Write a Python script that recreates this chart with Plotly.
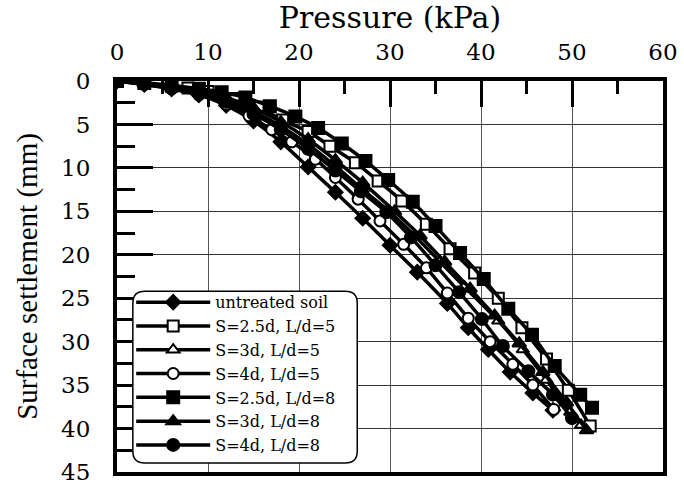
import plotly.graph_objects as go

# ---- data (pressure kPa, settlement mm) ----
untreated_p = [0, 3, 6, 9, 12, 15, 18, 21, 24, 27, 30, 33, 36.3, 38.6, 40.8, 43.2, 45.7, 47.9]
untreated_s = [0, 0.4, 0.9, 1.6, 2.8, 4.6, 7.0, 9.9, 12.8, 15.8, 18.9, 22.0, 25.6, 28.4, 30.9, 33.5, 35.9, 37.9]

s25_l5_p = [0, 3, 6, 7.8, 10, 13, 15.5, 18.2, 21, 23.4, 26.2, 28.7, 31.3, 34, 36.6, 39.3, 41.9, 44.5, 47.2, 49.6, 52]
s25_l5_s = [0, 0.3, 0.6, 0.8, 1.2, 2.0, 3.0, 4.5, 5.8, 7.5, 9.4, 11.5, 13.8, 16.5, 19.3, 22.1, 25.0, 28.4, 32.0, 35.6, 39.7]

s3_l5_p = [0, 3, 6, 9, 12, 15, 18, 21, 24, 27, 29.9, 32.7, 35.5, 38.2, 41.9, 44.6, 47.2, 49.8, 51]
s3_l5_s = [0, 0.3, 0.7, 1.3, 2.2, 3.5, 5.2, 7.3, 9.8, 12.5, 15.0, 17.8, 20.8, 23.7, 27.6, 30.9, 34.4, 38.1, 39.6]

s4_l5_p = [0, 3, 6, 9, 12, 14.5, 17, 19.2, 21.8, 24, 26.5, 28.9, 31.5, 34, 36.3, 38.6, 41, 43.5, 45.7, 48]
s4_l5_s = [0, 0.4, 0.9, 1.6, 2.7, 4.0, 5.6, 7.0, 9.0, 11.1, 13.6, 16.1, 18.8, 21.5, 24.4, 27.3, 30.0, 32.6, 35.0, 37.8]

s25_l8_p = [0, 3, 6, 9, 11.5, 14.1, 16.8, 19.6, 22.1, 24.7, 27.3, 29.8, 32.5, 35, 37.7, 40.3, 43, 45.6, 48.1, 50.9, 52.2]
s25_l8_s = [0, 0.2, 0.5, 0.9, 1.3, 1.9, 2.9, 4.1, 5.4, 7.2, 9.2, 11.4, 13.9, 16.7, 19.8, 22.8, 26.2, 29.2, 32.8, 36.1, 37.6]

s3_l8_p = [0, 3, 6, 9, 12, 15, 18, 21, 24, 27, 30.5, 33.3, 36, 38.8, 41.5, 44.2, 46.8, 49.4, 51.6]
s3_l8_s = [0, 0.3, 0.6, 1.1, 1.9, 3.1, 4.7, 6.7, 9.1, 11.7, 15.0, 17.8, 20.8, 23.9, 27.0, 30.2, 33.5, 37.0, 40.2]

s4_l8_p = [0, 3, 6, 9, 12, 15, 18, 21, 24, 26.8, 29.6, 32.3, 35, 37.6, 40.1, 42.4, 45.2, 47.9, 50]
s4_l8_s = [0, 0.3, 0.8, 1.4, 2.4, 3.8, 5.6, 7.8, 10.3, 12.7, 15.1, 18.0, 21.2, 24.3, 27.4, 30.5, 33.4, 36.1, 38.8]

series_names = ["untreated soil", "S=2.5d, L/d=5", "S=3d, L/d=5", "S=4d, L/d=5",
                "S=2.5d, L/d=8", "S=3d, L/d=8", "S=4d, L/d=8"]
series_x = [untreated_p, s25_l5_p, s3_l5_p, s4_l5_p, s25_l8_p, s3_l8_p, s4_l8_p]
series_y = [untreated_s, s25_l5_s, s3_l5_s, s4_l5_s, s25_l8_s, s3_l8_s, s4_l8_s]
symbols = ["diamond", "square", "triangle-up", "circle", "square", "triangle-up", "circle"]
fills = ["black", "white", "white", "white", "black", "black", "black"]
sizes = [11, 11, 11, 11, 12, 12, 12]

x_ticks = [0, 10, 20, 30, 40, 50, 60]
y_ticks = [0, 5, 10, 15, 20, 25, 30, 35, 40, 45]

fig = go.Figure()
for name, xs, ys, sym, fc, sz in zip(series_names, series_x, series_y, symbols, fills, sizes):
    fig.add_trace(go.Scatter(
        x=xs, y=ys, name=name, mode="lines+markers",
        line=dict(color="black", width=3.5, shape="spline", smoothing=0.6),
        marker=dict(symbol=sym, size=sz, color=fc, line=dict(color="black", width=2)),
    ))

TICKFONT = dict(family="DejaVu Serif", size=23, color="black")

fig.update_layout(
    width=684, height=486,
    margin=dict(l=117, r=21, t=81, b=14, autoexpand=False),
    paper_bgcolor="white", plot_bgcolor="white",
    showlegend=True,
    legend=dict(
        x=0.026, y=0.025, xanchor="left", yanchor="bottom",
        bgcolor="rgba(0,0,0,0)", borderwidth=0,
        font=dict(family="DejaVu Serif", size=16, color="black"),
        itemwidth=74, tracegroupgap=0,
    ),
    xaxis=dict(
        side="top", range=[0, 60], tickvals=x_ticks, automargin=False,
        ticks="inside", ticklen=26, tickwidth=3, tickcolor="black",
        minor=dict(dtick=5, ticks="inside", ticklen=13, tickwidth=3, tickcolor="black", showgrid=False),
        showgrid=True, gridcolor="#555555", gridwidth=1,
        showline=True, linewidth=4, linecolor="black", mirror=True, zeroline=False,
        tickfont=TICKFONT, ticklabelstandoff=8, ticklabeloverflow="allow",
        title=dict(text="Pressure (kPa)", font=dict(family="DejaVu Serif", size=30, color="black"), standoff=2),
    ),
    yaxis=dict(
        range=[45, 0], tickvals=y_ticks, automargin=False,
        ticks="inside", ticklen=36, tickwidth=3, tickcolor="black",
        minor=dict(dtick=2.5, ticks="inside", ticklen=18, tickwidth=3, tickcolor="black", showgrid=False),
        showgrid=True, gridcolor="#333333", gridwidth=1,
        showline=True, linewidth=4, linecolor="black", mirror=True, zeroline=False,
        tickfont=TICKFONT, ticklabelstandoff=18, ticklabeloverflow="allow",
        title=dict(text="Surface settlement (mm)", font=dict(family="Liberation Serif", size=29, color="black"), standoff=16),
    ),
)

# rounded legend frame (paper coordinates)
x0, x1, y0, y1 = 0.029, 0.440, 0.023, 0.462
rx, ry = 0.022, 0.030
path = (f"M {x0+rx},{y1} L {x1-rx},{y1} Q {x1},{y1} {x1},{y1-ry} "
        f"L {x1},{y0+ry} Q {x1},{y0} {x1-rx},{y0} L {x0+rx},{y0} "
        f"Q {x0},{y0} {x0},{y0+ry} L {x0},{y1-ry} Q {x0},{y1} {x0+rx},{y1} Z")
fig.add_shape(type="path", path=path, xref="paper", yref="paper",
              line=dict(color="black", width=1.5), fillcolor="white", layer="above")

fig.write_html("out.html")
